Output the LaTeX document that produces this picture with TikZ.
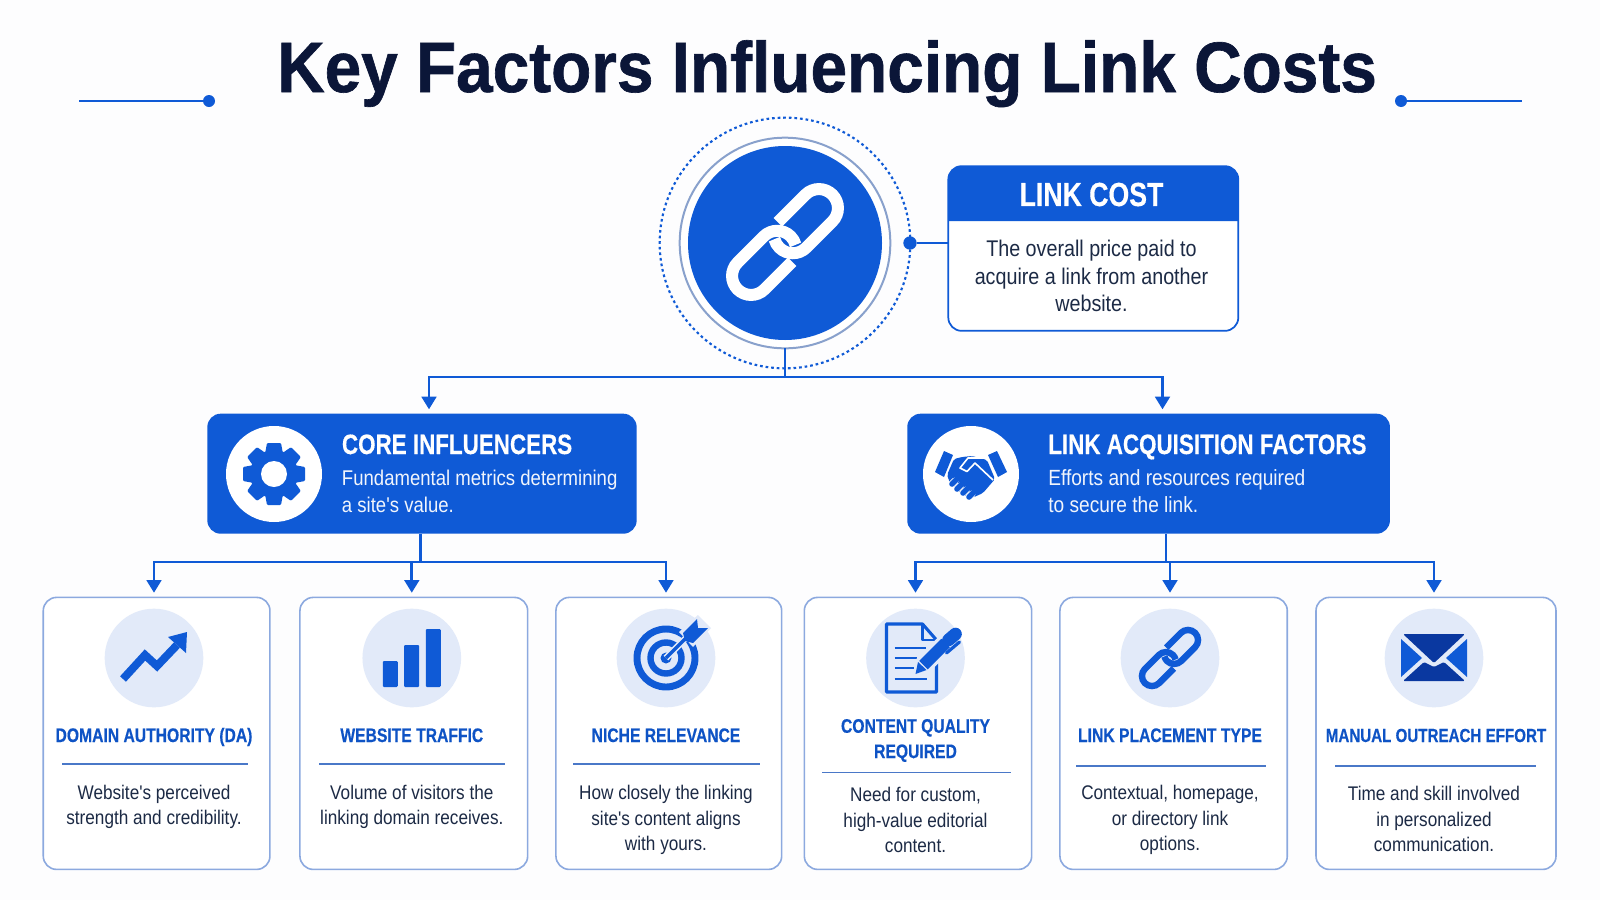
\documentclass[tikz,border=0pt]{standalone}
\usepackage{fontspec}
\usetikzlibrary{arrows.meta,calc}
\newfontfamily\notefont[FakeStretch=0.87]{Liberation Sans}
\newfontfamily\headfont[FakeStretch=0.80,FakeBold=0.4]{Liberation Sans Bold}
\newfontfamily\bannerfont[FakeStretch=0.92,FakeBold=0.9]{Liberation Sans Bold}
\definecolor{mainblue}{HTML}{0F5AD6}
\definecolor{navyink}{HTML}{0B1638}
\definecolor{bodyink}{HTML}{1C2A45}
\definecolor{paleblue}{HTML}{E2EAF9}
\definecolor{edgeblue}{HTML}{8CA9DF}
\definecolor{deepblue}{HTML}{0A38A0}
\definecolor{ruleblue}{HTML}{4A78C8}
\definecolor{paper}{HTML}{FDFDFE}
\tikzset{
  wire/.style={draw=mainblue,line width=2.1pt},
  flow/.style={wire,-{Triangle[width=11pt,length=9.5pt]},shorten >=3.5pt},
  bannerbox/.style={rectangle,rounded corners=10pt,fill=mainblue,inner sep=0pt,outer sep=0pt,minimum height=90pt},
  cardbox/.style={rectangle,rounded corners=10pt,draw=edgeblue,line width=1.2pt,fill=white,inner sep=0pt,outer sep=0pt,minimum height=204pt},
  iconspot/.style={circle,fill=paleblue,inner sep=0pt,minimum size=74pt},
  whitespot/.style={circle,fill=white,inner sep=0pt,minimum size=72pt},
  cardhead/.style={inner sep=0pt,align=center,text=mainblue!92!black,font=\headfont\fontsize{14.7pt}{19pt}\selectfont},
  cardnote/.style={inner sep=0pt,align=center,text=bodyink,font=\notefont\fontsize{14.8pt}{19pt}\selectfont},
  rulerline/.style={draw=ruleblue,line width=0.8pt},
  boxhead/.style={inner sep=0pt,anchor=base west,text=white,font=\headfont\fontsize{21pt}{24pt}\selectfont},
  boxnote/.style={inner sep=0pt,anchor=west,align=left,text=white!94!mainblue,font=\notefont\fontsize{16pt}{20.2pt}\selectfont},
  enddot/.style={circle,fill=mainblue,inner sep=0pt,minimum size=9pt},
}
% one chain link icon: x, y, scale, line width, colour
\newcommand{\chainicon}[5]{%
  \foreach \turn in {-45,135}{
    \draw[#5,line width=#4,shift={(#1,#2)},rotate=\turn,scale=#3]
      (9,-19) -- (48,-19) arc (-90:90:19) -- (11,19) arc (90:210:19);
  }
}
\begin{document}
\begin{tikzpicture}[x=0.75pt,y=0.75pt,yscale=-1,xscale=1]
\fill[paper] (0,0) rectangle (1600,900);
\useasboundingbox (0,0) rectangle (1600,900);

% Title
\node [inner sep=0pt,anchor=base,text=navyink,font=\bannerfont\fontsize{53.6pt}{60pt}\selectfont] (banner) at (827,92) {Key Factors Influencing Link Costs};
\node [enddot] (leftdot) at (209,101) {};
\node [enddot] (rightdot) at (1401,101) {};
\coordinate (leftend) at (79,101);
\coordinate (rightend) at (1522,101);
\draw [draw=mainblue,line width=1.4pt] (leftend) -- (leftdot);
\draw [draw=mainblue,line width=1.4pt] (rightdot) -- (rightend);

% Hub circle
\node [circle,draw=mainblue,line width=1.6pt,dash pattern=on 2pt off 2.2pt,inner sep=0pt,minimum size=188pt] (huborbit) at (785,243) {};
\node [circle,draw=edgeblue!80!gray,fill=white,line width=1.5pt,inner sep=0pt,outer sep=0pt,minimum size=158pt] (hubring) at (785,243) {};
\node [circle,fill=mainblue,inner sep=0pt,minimum size=145.5pt] (hub) at (785,243) {};
\chainicon{785}{242}{1}{9pt}{white}

% Link cost box
\node [rectangle,rounded corners=10pt,draw=mainblue,line width=1.3pt,fill=white,inner sep=0pt,outer sep=0pt,minimum width=217.5pt,minimum height=123.5pt] (costbox) at (1093.3,248.5) {};
\fill [mainblue] (948,221) {[rounded corners=10pt] -- (948,166) -- (1238.6,166)} -- (1238.6,221) -- cycle;
\node [inner sep=0pt,text=white,font=\headfont\fontsize{25pt}{28pt}\selectfont] (costhead) at (1091.5,194.5) {LINK COST};
\node [inner sep=0pt,align=center,text=bodyink,font=\notefont\fontsize{17pt}{20.6pt}\selectfont] (costnote) at (1091.5,276) {The overall price paid to\\acquire a link from another\\website.};
\node [enddot,minimum size=10pt] (hubdot) at (910,243) {};
\draw [wire] (hubdot) -- (hubdot -| costbox.west);

% Core influencers
\node [bannerbox,minimum width=322pt] (core) at (422,473.7) {};
\node [whitespot] (corespot) at (274,474) {};
\node [boxhead] (corehead) at (341.7,454) {CORE INFLUENCERS};
\node [boxnote] (corenote) at (341.7,491.5) {Fundamental metrics determining\\a site's value.};
\begin{scope}[shift={(corespot)}]
  \foreach \a in {0,45,...,315}{
    \fill [mainblue,rotate=\a,rounded corners=0.8pt] (-7,-31) -- (7,-31) -- (9,-20) -- (-9,-20) -- cycle;
  }
  \fill [mainblue] (0,0) circle (24);
  \fill [white] (0,0) circle (13);
\end{scope}

% Link acquisition factors
\node [bannerbox,minimum width=362pt] (acq) at (1148.6,473.7) {};
\node [whitespot] (acqspot) at (971,474) {};
\node [boxhead] (acqhead) at (1048,454) {LINK ACQUISITION FACTORS};
\node [boxnote,font=\notefont\fontsize{16.5pt}{20.2pt}\selectfont] (acqnote) at (1048,491.5) {Efforts and resources required\\to secure the link.};
\begin{scope}[shift={(acqspot)}]
  \fill [mainblue] (-27,-23) -- (-18,-19) -- (-27,3) -- (-36,-2) -- cycle;
  \fill [mainblue] (17,-19) -- (26,-23) -- (36,-2) -- (27,3) -- cycle;
  \fill [mainblue,rounded corners=1.5pt] (-17,-15) -- (-9,-17) -- (1,-18) -- (16,-14) -- (24,5) -- (12,19) -- (1,24) -- (-8,21) -- (-21,9) -- (-24,1) -- cycle;
  \foreach \px/\py in {-19/10,-14/15,-8/19,-2/23}{
    \draw [white,line width=5.4pt,line cap=round] (\px,\py) -- (\px+3,\py-3);
    \draw [mainblue,line width=4.2pt,line cap=round] (\px,\py) -- (\px+5,\py-5);
  }
  \draw [white,line width=1.2pt,line join=round] (14,-16) -- (-3,-16) -- (-11,-6) -- (-4,-2.5) -- (4,-11) -- (22,6);
\end{scope}

% Connectors from hub
\coordinate (hubbus) at (785,377);
\coordinate (coreport) at (429,414);
\coordinate (acqport) at (1162.5,414);
\draw [wire] (hubring.south) -- (hubbus);
\draw [flow] (hubbus) -| (coreport);
\draw [flow] (hubbus) -| (acqport);

% Cards
\node [cardbox,minimum width=170pt] (card1) at (156.6,733.4) {};
\node [cardbox,minimum width=170.8pt] (card2) at (413.8,733.4) {};
\node [cardbox,minimum width=169.3pt] (card3) at (668.8,733.4) {};
\node [cardbox,minimum width=170.5pt] (card4) at (918,733.4) {};
\node [cardbox,minimum width=170.5pt] (card5) at (1173.6,733.4) {};
\node [cardbox,minimum width=180pt] (card6) at (1436,733.4) {};
\node [iconspot] (spot1) at (154,658) {};
\node [iconspot] (spot2) at (411.8,658) {};
\node [iconspot] (spot3) at (666,658) {};
\node [iconspot] (spot4) at (915.5,658) {};
\node [iconspot] (spot5) at (1170,658) {};
\node [iconspot] (spot6) at (1434,658) {};

% Connectors to cards
\coordinate (corebus) at (420.7,562);
\coordinate (acqbus) at (1166,562);
\draw [wire] (corebus |- core.south) -- (corebus);
\draw [wire] (acqbus |- acq.south) -- (acqbus);
\draw [flow] (corebus) -| (spot1 |- card1.north);
\draw [flow] (corebus) -| (spot2 |- card2.north);
\draw [flow] (corebus) -| (spot3 |- card3.north);
\draw [flow] (acqbus) -| (spot4 |- card4.north);
\draw [flow] (acqbus) -| (spot5 |- card5.north);
\draw [flow] (acqbus) -| (spot6 |- card6.north);

% Trend icon
\begin{scope}[shift={(spot1)}]
  \draw [mainblue,line width=6pt,line join=miter] (-31,21) -- (-9,-3) -- (3,8) -- (23,-13);
  \fill [mainblue] (14,-21) -- (33,-26) -- (32,-5) -- cycle;
\end{scope}
% Bars icon
\begin{scope}[shift={(spot2)}]
  \fill [mainblue,rounded corners=0.8pt] (-29,3) rectangle (-14,29);
  \fill [mainblue,rounded corners=0.8pt] (-7.7,-13) rectangle (7.3,29);
  \fill [mainblue,rounded corners=0.8pt] (14,-29) rectangle (29,29);
\end{scope}
% Target icon
\begin{scope}[shift={(spot3)}]
  \draw [mainblue,line width=5.2pt] (0,0) circle (29);
  \draw [mainblue,line width=4.8pt] (0,0) circle (15.5);
  \fill [mainblue] (0,0) circle (5.5);
  \draw [paleblue,line width=5pt] (0,0) -- (23,-23);
  \fill [paleblue] (13,-26) -- (32,-43) -- (45,-30) -- (27,-11) -- cycle;
  \draw [mainblue,line width=2.6pt] (0,0) -- (23,-23);
  \fill [mainblue] (17,-25) -- (31,-39) -- (32,-30) -- (42,-30) -- (27,-15) -- (19,-17) -- cycle;
\end{scope}
% Document icon
\begin{scope}[shift={(spot4)}]
  \draw [mainblue,line width=2.3pt,line join=round] (7,-34) -- (-29,-34) -- (-29,34) -- (21,34) -- (21,-18) -- cycle;
  \draw [mainblue,line width=2pt,line join=round] (7,-34) -- (7,-18) -- (21,-18);
  \draw [mainblue,line width=2pt] (-21,-10) -- (10,-10);
  \draw [mainblue,line width=2pt] (-21,0) -- (1,0);
  \draw [mainblue,line width=2pt] (-21,10) -- (-2,10);
  \draw [mainblue,line width=2pt] (-21,21) -- (11,21);
  \draw [paleblue,line width=14pt] (6,9) -- (36,-21);
  \draw [mainblue,line width=9pt] (8,7) -- (30,-15);
  \fill [mainblue] (0,16) -- (2.5,4) -- (11,12) -- cycle;
  \draw [mainblue,line width=9.5pt,line cap=round] (33,-18) -- (40,-24);
  \draw [mainblue,line width=2.4pt,line cap=round] (31,-5) -- (44,-16);
\end{scope}
% Link icon
\chainicon{1170}{658}{0.53}{4.8pt}{mainblue}
% Envelope icon
\begin{scope}[shift={(spot6)}]
  \fill [deepblue,rounded corners=1pt] (-31,-24) -- (31,-24) -- (0,5) -- cycle;
  \fill [mainblue] (-33,-19) -- (-12,0) -- (-33,19) -- cycle;
  \fill [mainblue] (33,-19) -- (12,0) -- (33,19) -- cycle;
  \fill [deepblue,rounded corners=1pt] (-31,23) -- (-10,4) -- (0,9) -- (10,4) -- (31,23) -- cycle;
\end{scope}

% Card texts
\node [cardhead,anchor=base] (head1) at (154,742) {DOMAIN AUTHORITY (DA)};
\draw [rulerline] (62,764) -- (248,764);
\node [cardnote] (note1) at (154,807) {Website's perceived\\strength and credibility.};

\node [cardhead,anchor=base] (head2) at (411.8,742) {WEBSITE TRAFFIC};
\draw [rulerline] (319,764) -- (505,764);
\node [cardnote] (note2) at (411.8,807) {Volume of visitors the\\linking domain receives.};

\node [cardhead,anchor=base] (head3) at (666,742) {NICHE RELEVANCE};
\draw [rulerline] (573,764) -- (760,764);
\node [cardnote] (note3) at (666,820) {How closely the linking\\site's content aligns\\with yours.};

\node [cardhead] (head4) at (915.5,740.5) {CONTENT QUALITY\\REQUIRED};
\draw [rulerline] (822,772.5) -- (1011,772.5);
\node [cardnote] (note4) at (915.5,820) {Need for custom,\\high-value editorial\\content.};

\node [cardhead,anchor=base] (head5) at (1170,742) {LINK PLACEMENT TYPE};
\draw [rulerline] (1076,766) -- (1266,766);
\node [cardnote] (note5) at (1170,820) {Contextual, homepage,\\or directory link\\options.};

\node [cardhead,anchor=base,font=\headfont\fontsize{14.2pt}{19pt}\selectfont] (head6) at (1436,742) {MANUAL OUTREACH EFFORT};
\draw [rulerline] (1335,766) -- (1536,766);
\node [cardnote] (note6) at (1434,819) {Time and skill involved\\in personalized\\communication.};

\end{tikzpicture}
\end{document}
